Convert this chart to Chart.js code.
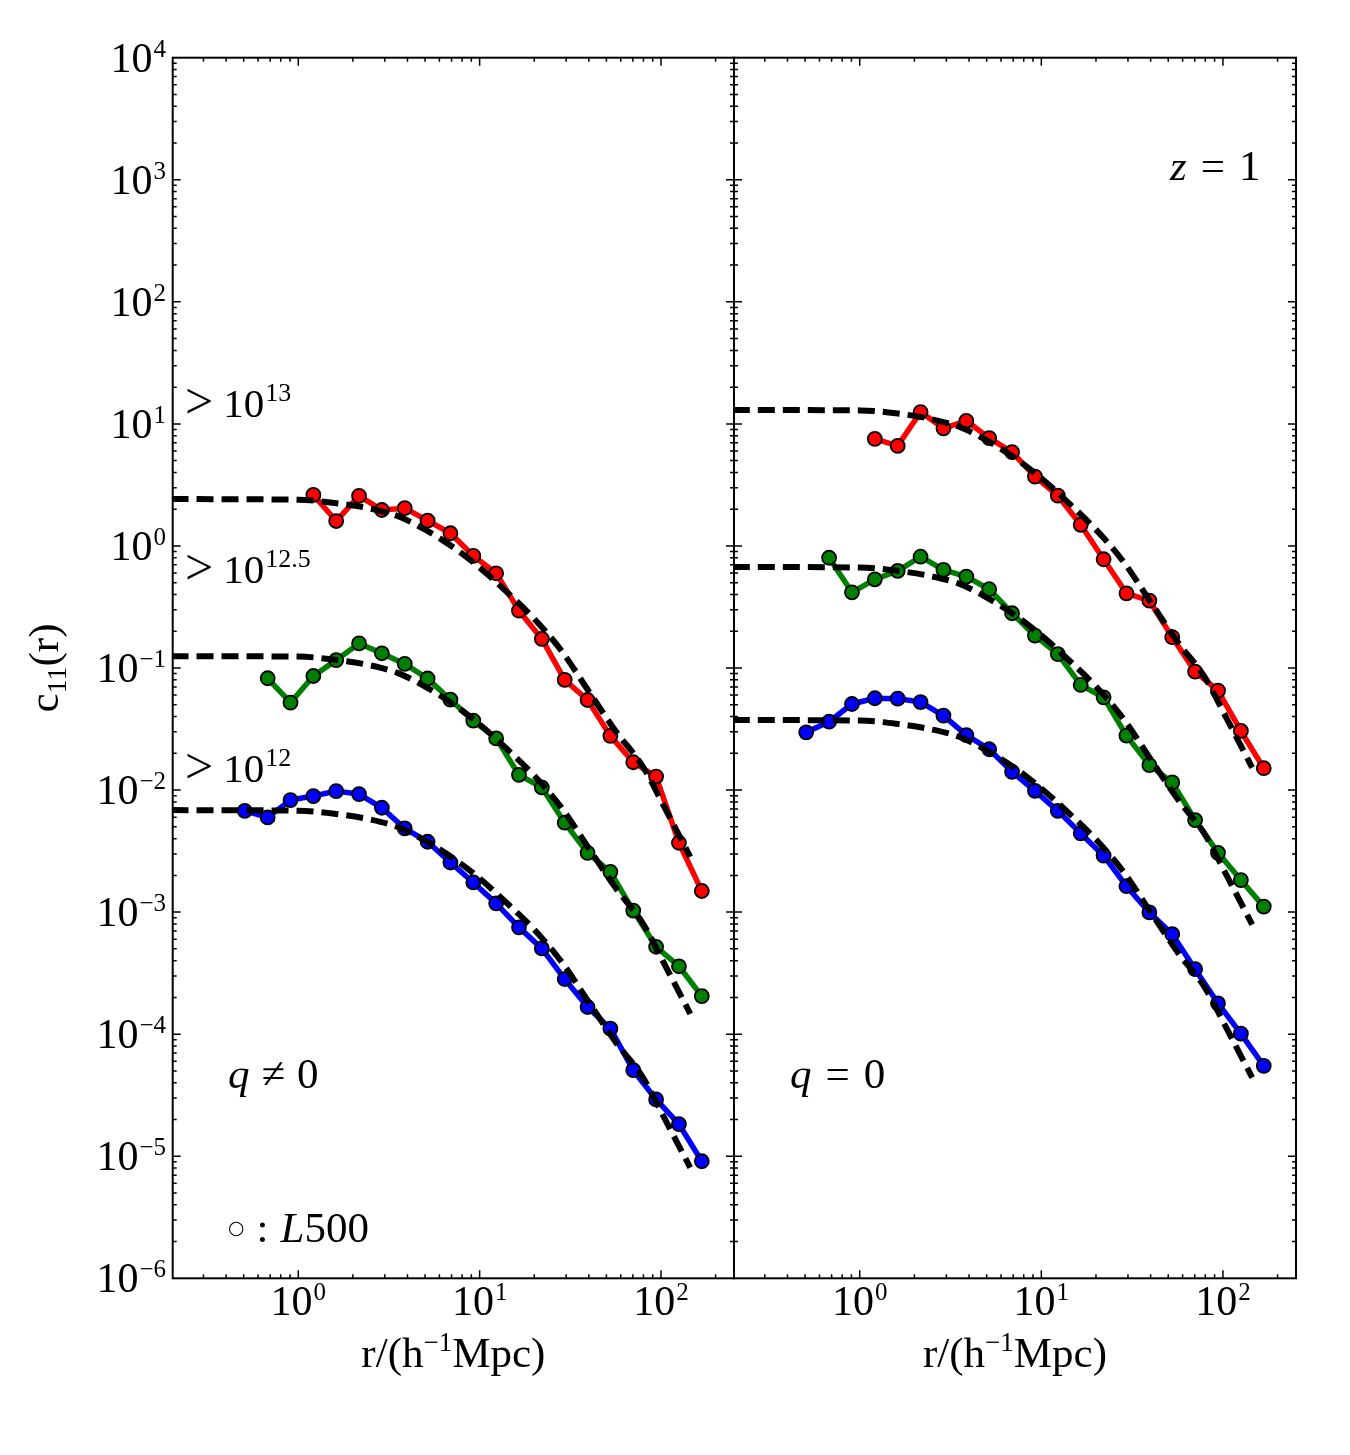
<!DOCTYPE html>
<html>
<head>
<meta charset="utf-8">
<title>c11(r)</title>
<script src="https://cdn.jsdelivr.net/npm/chart.js@4.4.1/dist/chart.umd.min.js"></script>
<style>
    html, body { margin: 0; padding: 0; background: #ffffff; }
    #wrap { position: relative; width: 1350px; height: 1455px; }
    #wrap canvas { position: absolute; left: 0; top: 0; }
</style>
</head>
<body>
<div id="wrap">
    <canvas id="leftPanel" width="1350" height="1455"></canvas>
    <canvas id="rightPanel" width="1350" height="1455"></canvas>
</div>
<script>
// separation bins, h^-1 Mpc
const rBins = [0.507, 0.678, 0.906, 1.211, 1.618, 2.163, 2.891, 3.864, 5.164, 6.902, 9.226,
    12.33, 16.48, 22.03, 29.44, 39.36, 52.60, 70.31, 93.97, 125.6, 167.9];

// left panel, q != 0
const redQ = [null, null, null, 2.62, 1.60, 2.57, 1.97, 2.04, 1.61, 1.27, 0.83,
    0.597, 0.295, 0.173, 0.080, 0.0547, 0.0278, 0.0169, 0.0129, 0.0037, 0.00149];
const greenQ = [null, 0.0824, 0.052, 0.086, 0.116, 0.159, 0.132, 0.108, 0.082, 0.055, 0.037,
    0.0265, 0.0133, 0.0105, 0.0054, 0.00306, 0.00214, 0.00103, 0.00052, 0.00036, 0.000205];
const blueQ = [0.00676, 0.00597, 0.00828, 0.00893, 0.0098, 0.00927, 0.00716, 0.00485, 0.00377, 0.00255, 0.00175,
    0.00118, 0.00075, 0.000504, 0.000283, 0.000167, 0.000111, 0.0000507, 0.0000292, 0.0000183, 0.0000091];

// right panel, q = 0
const redZero = [null, null, null, 7.53, 6.6, 12.5, 9.2, 10.6, 7.64, 5.86, 3.70,
    2.58, 1.49, 0.778, 0.409, 0.356, 0.179, 0.0933, 0.0652, 0.0305, 0.0151];
const greenZero = [null, 0.80, 0.417, 0.533, 0.624, 0.816, 0.636, 0.561, 0.442, 0.281, 0.184,
    0.130, 0.0726, 0.0575, 0.0279, 0.0160, 0.01156, 0.00568, 0.00306, 0.00183, 0.00111];
const blueZero = [0.0297, 0.0363, 0.0507, 0.0565, 0.0561, 0.0526, 0.0407, 0.0282, 0.0216, 0.0141, 0.00986,
    0.00676, 0.00442, 0.0029, 0.00163, 0.000995, 0.00066, 0.000341, 0.000179, 0.000101, 0.000055];

// model curves (dashed)
const modelR = [0.2, 1.0, 1.58, 2.51, 3.55, 5.01, 7.08, 10.0, 14.1, 20.0, 28.2, 39.8, 56.2, 79.4, 105, 145];
const redModelQ = [2.42, 2.39, 2.25, 2.02, 1.75, 1.36, 0.984, 0.665, 0.420, 0.253, 0.139, 0.0650, 0.0304, 0.0156, 0.00713, 0.00284];
const greenModelQ = [0.125, 0.124, 0.117, 0.105, 0.0908, 0.0705, 0.0511, 0.0345, 0.0218, 0.0131, 0.00721, 0.00337, 0.00158, 0.000809, 0.000370, 0.000147];
const blueModelQ = [0.00685, 0.00678, 0.00640, 0.00573, 0.00497, 0.00385, 0.00279, 0.00189, 0.00119, 0.000718, 0.000394, 0.000185, 0.0000863, 0.0000443, 0.0000202, 0.00000805];
const redModelZero = [13.0, 12.9, 12.2, 10.9, 9.44, 7.33, 5.31, 3.59, 2.26, 1.36, 0.750, 0.351, 0.164, 0.0841, 0.0385, 0.0153];
const greenModelZero = [0.673, 0.665, 0.628, 0.562, 0.488, 0.378, 0.274, 0.185, 0.117, 0.0705, 0.0387, 0.0181, 0.00847, 0.00435, 0.00199, 0.000791];
const blueModelZero = [0.0375, 0.0371, 0.0350, 0.0313, 0.0272, 0.0211, 0.0153, 0.0103, 0.00652, 0.00393, 0.00216, 0.00101, 0.000472, 0.000242, 0.000111, 0.0000441];

// axes
const xMin = 0.203, xMax = 252.7;
const yMin = 1e-6, yMax = 1e4;
const xTickExps = [0, 1, 2];
const yTickExps = [4, 3, 2, 1, 0, -1, -2, -3, -4, -5, -6];

const SERIF = '"Liberation Serif", "DejaVu Serif", serif';
const MINUS = "\u2212";

function fontOf(size, italic, family) {
    return (italic ? "italic " : "") + size + "px " + (family || SERIF);
}

function toPoints(xs, ys) {
    return xs.map((x, i) => ({ x: x, y: ys[i] })).filter((p) => p.y !== null);
}

// text made of runs: {t, size, italic, dy, gap, family}
function runsWidth(ctx, runs) {
    let w = 0;
    runs.forEach((r) => {
        ctx.font = fontOf(r.size, r.italic, r.family);
        w += ctx.measureText(r.t).width + (r.gap || 0);
    });
    return w;
}

function drawRuns(ctx, runs, x, y, align) {
    const w = runsWidth(ctx, runs);
    let cx = align === "right" ? x - w : align === "center" ? x - w / 2 : x;
    ctx.textAlign = "left";
    ctx.textBaseline = "alphabetic";
    ctx.fillStyle = "#000";
    runs.forEach((r) => {
        ctx.font = fontOf(r.size, r.italic, r.family);
        ctx.fillText(r.t, cx, y + (r.dy || 0));
        cx += ctx.measureText(r.t).width + (r.gap || 0);
    });
}

function powerRuns(exp) {
    const e = exp < 0 ? MINUS + Math.abs(exp) : String(exp);
    return [{ t: "10", size: 42, gap: 1 }, { t: e, size: 25, dy: -15 }];
}

function lineSet(points, color) {
    return {
        data: points,
        borderColor: color,
        backgroundColor: color,
        borderWidth: 5.5,
        borderJoinStyle: "round",
        pointRadius: 7,
        pointBorderWidth: 1.8,
        pointBorderColor: "#000",
        pointBackgroundColor: color,
        tension: 0,
        order: 1
    };
}

function modelSet(points) {
    return {
        data: points,
        borderColor: "#000",
        borderWidth: 6,
        borderDash: [17, 8],
        pointRadius: 0,
        cubicInterpolationMode: "monotone",
        clip: 0,
        order: 0
    };
}

const framePlugin = {
    id: "frame",
    afterDraw(chart, args, opts) {
        const ctx = chart.ctx;
        const area = chart.chartArea;
        const xs = chart.scales.x;
        const ys = chart.scales.y;
        ctx.save();

        // ticks, pointing inwards on all four sides
        ctx.strokeStyle = "#000";
        ctx.lineWidth = 1.5;
        ctx.beginPath();
        for (let e = -1; e <= 2; e++) {
            for (let m = 1; m <= 9; m++) {
                const v = m * Math.pow(10, e);
                if (v < xMin || v > xMax) continue;
                const px = xs.getPixelForValue(v);
                const len = m === 1 ? 8 : 4;
                ctx.moveTo(px, area.bottom);
                ctx.lineTo(px, area.bottom - len);
                ctx.moveTo(px, area.top);
                ctx.lineTo(px, area.top + len);
            }
        }
        for (let e = -6; e <= 3; e++) {
            for (let m = 1; m <= 9; m++) {
                const v = m * Math.pow(10, e);
                const py = ys.getPixelForValue(v);
                if (py > area.bottom - 0.5 || py < area.top + 0.5) continue;
                const len = m === 1 ? 8 : 4;
                ctx.moveTo(area.left, py);
                ctx.lineTo(area.left + len, py);
                ctx.moveTo(area.right, py);
                ctx.lineTo(area.right - len, py);
            }
        }
        ctx.stroke();

        ctx.lineWidth = 2;
        ctx.strokeRect(area.left, area.top, area.right - area.left, area.bottom - area.top);

        // x tick labels and title
        xTickExps.forEach((e) => {
            drawRuns(ctx, powerRuns(e), xs.getPixelForValue(Math.pow(10, e)), 1315, "center");
        });
        drawRuns(ctx, [
            { t: "r/(h", size: 43 },
            { t: MINUS + "1", size: 27, dy: -16 },
            { t: "Mpc)", size: 43 }
        ], (area.left + area.right) / 2, 1367, "center");

        if (opts.yLabels) {
            yTickExps.forEach((e) => {
                drawRuns(ctx, powerRuns(e), 166, ys.getPixelForValue(Math.pow(10, e)) + 14, "right");
            });
            ctx.save();
            ctx.translate(58, (area.top + area.bottom) / 2);
            ctx.rotate(-Math.PI / 2);
            drawRuns(ctx, [
                { t: "c", size: 43 },
                { t: "11", size: 28, dy: 8 },
                { t: "(r)", size: 43 }
            ], 0, 0, "center");
            ctx.restore();
        }

        (opts.notes || []).forEach((n) => drawRuns(ctx, n.runs, n.x, n.y, "left"));
        ctx.restore();
    }
};

function makePanel(canvasId, frame, data, models, opts) {
    const colors = ["#ff0000", "#008000", "#0000ff"];
    const datasets = [];
    models.forEach((m) => datasets.push(modelSet(toPoints(modelR, m))));
    data.forEach((d, i) => datasets.push(lineSet(toPoints(rBins, d), colors[i])));

    return new Chart(document.getElementById(canvasId), {
        type: "line",
        data: { datasets: datasets },
        options: {
            responsive: false,
            animation: false,
            events: [],
            layout: {
                padding: {
                    left: frame.left,
                    right: 1350 - frame.right,
                    top: frame.top,
                    bottom: 1455 - frame.bottom
                }
            },
            plugins: {
                legend: { display: false },
                tooltip: { enabled: false },
                frame: opts
            },
            scales: {
                x: { type: "logarithmic", min: xMin, max: xMax, display: false },
                y: { type: "logarithmic", min: yMin, max: yMax, display: false }
            }
        },
        plugins: [framePlugin]
    });
}

function massLabel(exp, y) {
    return {
        x: 185, y: y,
        runs: [
            { t: ">", size: 50, gap: 10, dy: 1 },
            { t: "10", size: 41, gap: 1 },
            { t: exp, size: 26, dy: -16 }
        ]
    };
}

makePanel("leftPanel",
    { left: 172.7, right: 734, top: 57.7, bottom: 1278.3 },
    [redQ, greenQ, blueQ],
    [redModelQ, greenModelQ, blueModelQ],
    {
        yLabels: true,
        notes: [
            massLabel("13", 417),
            massLabel("12.5", 583),
            massLabel("12", 782),
            { x: 228, y: 1088, runs: [{ t: "q", size: 43, italic: true, gap: 12 }, { t: "\u2260", size: 43, gap: 12 }, { t: "0", size: 43 }] },
            { x: 228, y: 1242, runs: [{ t: "\u25CB", size: 19, gap: 12, dy: -8, family: '"DejaVu Sans", sans-serif' }, { t: ":", size: 43, gap: 12 }, { t: "L", size: 43, italic: true }, { t: "500", size: 43 }] }
        ]
    });

makePanel("rightPanel",
    { left: 734, right: 1296, top: 57.7, bottom: 1278.3 },
    [redZero, greenZero, blueZero],
    [redModelZero, greenModelZero, blueModelZero],
    {
        yLabels: false,
        notes: [
            { x: 1170, y: 180, runs: [{ t: "z", size: 43, italic: true, gap: 14 }, { t: "=", size: 43, gap: 14 }, { t: "1", size: 43 }] },
            { x: 790, y: 1088, runs: [{ t: "q", size: 43, italic: true, gap: 14 }, { t: "=", size: 43, gap: 14 }, { t: "0", size: 43 }] }
        ]
    });
</script>
</body>
</html>
